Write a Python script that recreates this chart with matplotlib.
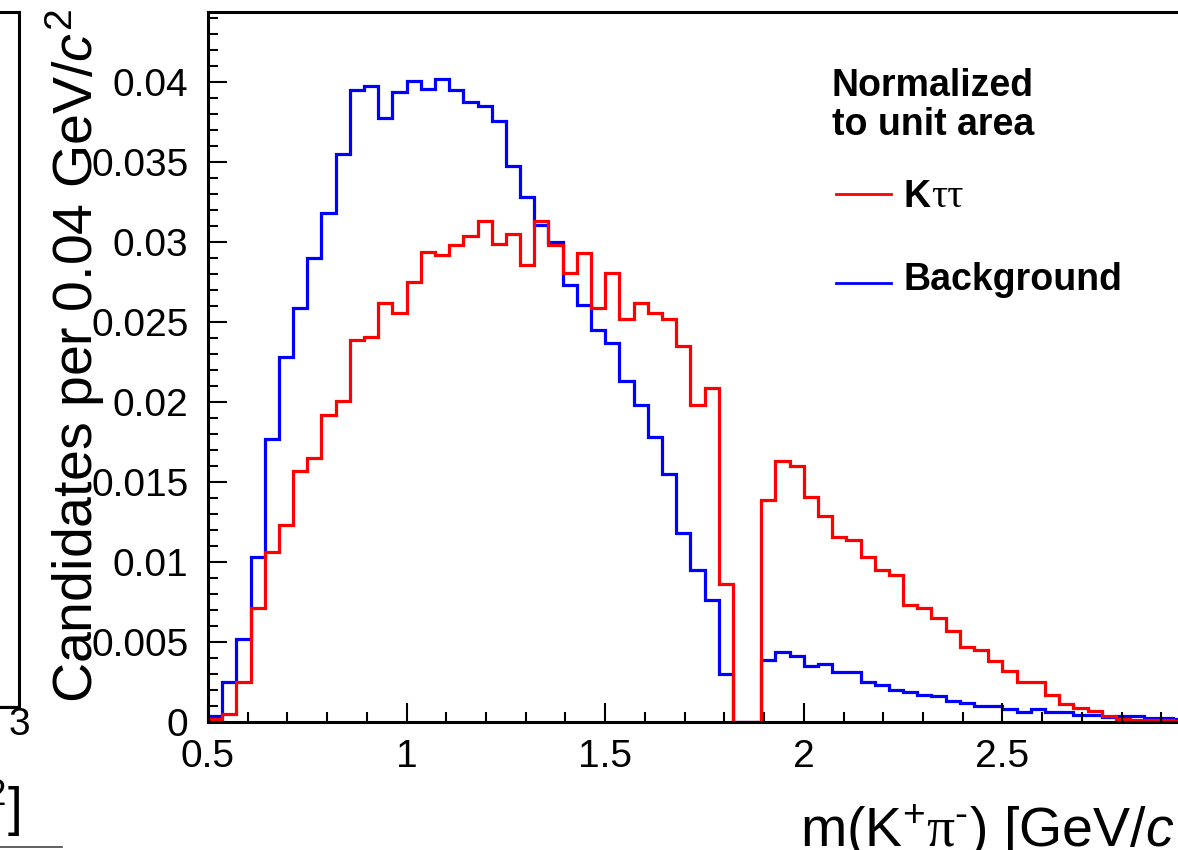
import matplotlib
matplotlib.use("Agg")
import matplotlib.pyplot as plt
import numpy as np
from matplotlib.lines import Line2D
from matplotlib.ticker import MultipleLocator, FixedLocator, FixedFormatter

# ---------------- data ----------------
x_min, x_max, n_bins = 0.5, 3.0, 70
edges = np.linspace(x_min, x_max, n_bins + 1)

ktautau = [0.0002, 0.0005, 0.0025, 0.0071, 0.0106, 0.0123, 0.0157, 0.0165, 0.0192, 0.0201,
           0.0239, 0.0241, 0.0262, 0.0256, 0.0275, 0.0294, 0.0292, 0.0298, 0.0304, 0.0313,
           0.0299, 0.0305, 0.0286, 0.0313, 0.0298, 0.0281, 0.0293, 0.0259, 0.0281, 0.0252,
           0.0262, 0.0256, 0.0252, 0.0235, 0.0198, 0.0209, 0.0086, 0.0, 0.0, 0.0139,
           0.0163, 0.0160, 0.0141, 0.0129, 0.0116, 0.0114, 0.0103, 0.0095, 0.0092, 0.0073,
           0.0071, 0.0065, 0.0057, 0.0047, 0.0045, 0.0038, 0.0032, 0.0025, 0.0025, 0.0017,
           0.0011, 0.0009, 0.0007, 0.0004, 0.0002, 0.0001, 0.0001, 0.0001, 0.00005, 0.00005]

background = [0.0004, 0.0025, 0.0052, 0.0103, 0.0177, 0.0228, 0.0259, 0.0290, 0.0318, 0.0355,
              0.0395, 0.0398, 0.0378, 0.0394, 0.0401, 0.0396, 0.0402, 0.0395, 0.0388, 0.0385,
              0.0376, 0.0348, 0.0328, 0.0311, 0.0300, 0.0273, 0.0261, 0.0245, 0.0237, 0.0213,
              0.0198, 0.0178, 0.0155, 0.0118, 0.0095, 0.0076, 0.0030, 0.0, 0.0, 0.0039,
              0.0044, 0.0041, 0.0035, 0.0036, 0.0031, 0.0031, 0.0025, 0.0023, 0.0020, 0.0019,
              0.0017, 0.0016, 0.0013, 0.0012, 0.0010, 0.0010, 0.0008, 0.00065, 0.0008, 0.0006,
              0.0006, 0.00046, 0.00046, 0.00033, 0.00038, 0.00038, 0.00025, 0.00025, 0.0002, 0.0002]

ytick_values = [0, 0.005, 0.01, 0.015, 0.02, 0.025, 0.03, 0.035, 0.04]
ytick_labels = ["0", "0.005", "0.01", "0.015", "0.02", "0.025", "0.03", "0.035", "0.04"]
xtick_values = [0.5, 1.0, 1.5, 2.0, 2.5, 3.0]
xtick_labels = ["0.5", "1", "1.5", "2", "2.5", "3"]

# neighbouring (cropped) panel on the left: only its tail is visible
left_edges = [2.9, 2.95, 3.0]
left_red_tail = [0.0, 0.0]

legend_title = ["Normalized", "to unit area"]
labels = ["K", "Background"]
y_max = 0.0444

# ---------------- style ----------------
plt.rcParams['font.family'] = ['Liberation Sans', 'DejaVu Sans']
plt.rcParams['mathtext.fontset'] = 'custom'
plt.rcParams['mathtext.rm'] = 'Liberation Sans'
plt.rcParams['mathtext.it'] = 'Liberation Sans:italic'
plt.rcParams['mathtext.bf'] = 'Liberation Sans:bold'
plt.rcParams['mathtext.sf'] = 'Liberation Serif'

W, H = 1178, 850
fig = plt.figure(figsize=(W / 100, H / 100), dpi=100)
fig.patch.set_facecolor('white')

def fx(px):
    return px / W

def fy(py):
    return 1 - py / H

RED = '#ff0000'
BLUE = '#0000ff'
LW = 2.3
FRAME_LW = 2.2
TICK_FS = 28

# ---------------- main panel ----------------
ax = fig.add_axes([fx(208), fy(722), (1201 - 208) / W, (722 - 12) / H])
ax.stairs(background, edges, color=BLUE, lw=LW, baseline=0)
ax.stairs(ktautau, edges, color=RED, lw=LW, baseline=0)
ax.set_xlim(x_min, x_max)
ax.set_ylim(0, y_max)
for s in ax.spines.values():
    s.set_linewidth(FRAME_LW)
ax.xaxis.set_major_locator(FixedLocator(xtick_values))
ax.xaxis.set_major_formatter(FixedFormatter(xtick_labels))
ax.xaxis.set_minor_locator(MultipleLocator(0.1))
ax.yaxis.set_major_locator(FixedLocator(ytick_values))
ax.yaxis.set_major_formatter(FixedFormatter(ytick_labels))
ax.yaxis.set_minor_locator(MultipleLocator(0.001))
ax.tick_params(which='both', direction='in', top=False, right=False, width=1.5)
ax.tick_params(which='major', length=14)
ax.tick_params(which='minor', length=7.5)
ax.tick_params(axis='y', which='major', labelsize=TICK_FS, pad=14)
ax.tick_params(axis='x', which='major', labelsize=TICK_FS, pad=12)

# y label (ROOT style: overlapping tick labels)
fig.text(fx(75), fy(356), 'Candidates per 0.04 GeV/$c^{2}$', rotation=90,
         ha='center', va='center', fontsize=40)
# x label
fig.text(fx(800), fy(847), r'm(K$^{+}\mathsf{\pi}^{\text{-}}$) [GeV/$c^{2}$]', ha='left',
         va='baseline', fontsize=40)

# legend
fig.text(fx(832), fy(96), legend_title[0], fontsize=27, fontweight='bold', va='baseline')
fig.text(fx(832), fy(135), legend_title[1], fontsize=27, fontweight='bold', va='baseline')
fig.add_artist(Line2D([fx(836), fx(891)], [fy(194), fy(194)], color=RED, lw=2.0,
                      transform=fig.transFigure))
fig.add_artist(Line2D([fx(836), fx(891)], [fy(283), fy(283)], color=BLUE, lw=2.0,
                      transform=fig.transFigure))
tk = fig.text(fx(903), fy(207), labels[0], fontsize=27, fontweight='bold', va='baseline')
fig.canvas.draw()
bb = tk.get_window_extent()
fig.text(bb.x1 / W + 0.001, fy(207), '\u03c4\u03c4', fontsize=29,
         family=['Liberation Serif', 'DejaVu Serif'], va='baseline')
fig.text(fx(903), fy(290), labels[1], fontsize=27, fontweight='bold', va='baseline')

# ---------------- cropped neighbouring panel ----------------
ax2 = fig.add_axes([fx(19 - 993), fy(707), 993 / W, (707 - 12) / H])
ax2.stairs(left_red_tail, left_edges, color=RED, lw=LW, baseline=0)
ax2.set_xlim(x_min, x_max)
ax2.set_ylim(0, y_max)
for s in ax2.spines.values():
    s.set_linewidth(FRAME_LW)
ax2.xaxis.set_major_locator(FixedLocator([3.0]))
ax2.xaxis.set_major_formatter(FixedFormatter(["3"]))
ax2.set_yticks([])
ax2.tick_params(axis='x', length=0, labelsize=TICK_FS, pad=0)
fig.text(fx(20), fy(826), '[GeV/$c^{2}$]', ha='right', va='baseline', fontsize=38)
fig.add_artist(Line2D([0, fx(62)], [fy(847), fy(847)], color='#444444', lw=1.2,
                      transform=fig.transFigure))

fig.savefig('out.png', dpi=100)
